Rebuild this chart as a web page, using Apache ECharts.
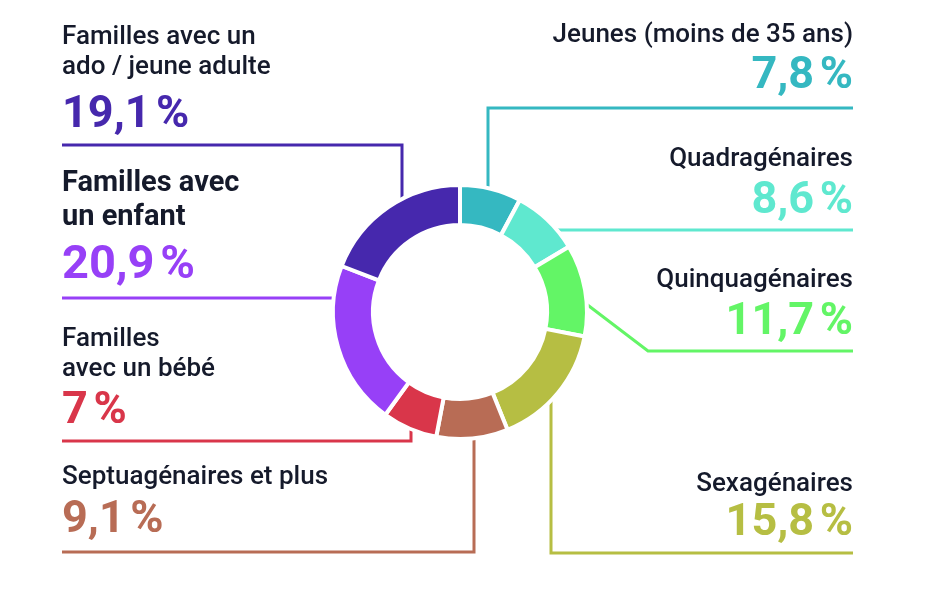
<!DOCTYPE html>
<html>
<head>
<meta charset="utf-8">
<script src="https://cdn.jsdelivr.net/npm/echarts@6/dist/echarts.min.js"></script>
<style>
html,body{margin:0;padding:0;background:#fff;}
#c{width:930px;height:612px;}
</style>
</head>
<body>
<div id="c"></div>
<script>
// ---- data ----
const categories = [
  'Jeunes (moins de 35 ans)',
  'Quadragénaires',
  'Quinquagénaires',
  'Sexagénaires',
  'Septuagénaires et plus',
  'Familles\navec un bébé',
  'Familles avec\nun enfant',
  'Familles avec un\nado / jeune adulte'
];
const values = [7.8, 8.6, 11.7, 15.8, 9.1, 7, 20.9, 19.1];
const colors = ['#35b8c1', '#5fe8cf', '#63f566', '#b6be43', '#b86c55', '#d9364a', '#9740f7', '#4628ad'];
const emphasized = [false, false, false, false, false, false, true, false];

// ---- layout (label anchors and leader paths) ----
const labelPos = [
  {x: 853, y: 20,  align: 'right', pl: 54, line: [[488,190],[488,108],[853,108]]},
  {x: 853, y: 144, align: 'right', pl: 56, line: [[554,230],[700,230],[853,230]]},
  {x: 853, y: 265, align: 'right', pl: 56, line: [[585,303],[648,351],[853,351]]},
  {x: 853, y: 469, align: 'right', pl: 50, line: [[551,397],[551,553],[853,553]]},
  {x: 62,  y: 462, align: 'left',  pl: 58, line: [[474,436],[474,552],[62,552]]},
  {x: 62,  y: 324, align: 'left',  pl: 56, line: [[411,428],[411,441],[62,441]]},
  {x: 62,  y: 167, align: 'left',  pl: 62, line: [[336,298],[200,298],[62,298]]},
  {x: 62,  y: 22,  align: 'left',  pl: 68, line: [[402,202],[402,145],[62,145]]}
];

const fmt = v => String(v).replace('.', ',') + '\u202F%';

const chart = echarts.init(document.getElementById('c'), null, {renderer: 'canvas'});
const FONT = 'Roboto, "Open Sans", sans-serif';

const data = categories.map((name, i) => {
  const nameStyle = emphasized[i] ? 'nb' : 'n';
  const pctStyle = emphasized[i] ? 'pb' : 'p';
  const txt = name.split('\n').map(s => '{' + nameStyle + '|' + s + '}').join('\n') +
              '\n{' + pctStyle + '|' + fmt(values[i]) + '}';
  return {
    name: name,
    value: values[i],
    itemStyle: {color: colors[i]},
    label: {
      formatter: txt,
      rich: {
        p: {color: colors[i], lineHeight: labelPos[i].pl},
        pb: {color: colors[i], lineHeight: labelPos[i].pl}
      }
    },
    labelLine: {lineStyle: {color: colors[i]}}
  };
});

chart.setOption({
  animation: false,
  backgroundColor: '#ffffff',
  series: [{
    type: 'pie',
    center: [460, 312],
    radius: [87, 127],
    startAngle: 90,
    clockwise: true,
    avoidLabelOverlap: false,
    itemStyle: {borderColor: '#ffffff', borderWidth: 4},
    label: {
      show: true,
      position: 'outside',
      fontFamily: FONT,
      rich: {
        n:  {fontFamily: FONT, fontSize: 26, lineHeight: 30, fontWeight: 500, color: '#151a2b'},
        nb: {fontFamily: FONT, fontSize: 29, lineHeight: 34, fontWeight: 'bold', color: '#151a2b'},
        p:  {fontFamily: FONT, fontSize: 45, lineHeight: 54, fontWeight: 'bold'},
        pb: {fontFamily: FONT, fontSize: 47, lineHeight: 62, fontWeight: 'bold'}
      }
    },
    labelLine: {show: true, smooth: false, lineStyle: {width: 3}},
    labelLayout: function (params) {
      const p = labelPos[params.dataIndex];
      return {
        x: p.x,
        y: p.y,
        align: p.align,
        verticalAlign: 'top',
        labelLinePoints: p.line
      };
    },
    emphasis: {disabled: true},
    data: data
  }]
});
</script>
</body>
</html>
